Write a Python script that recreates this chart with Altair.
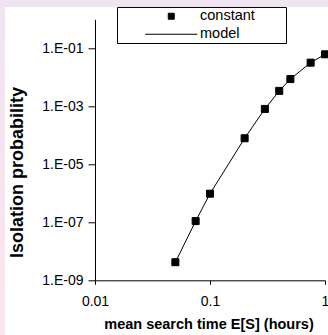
import altair as alt
import pandas as pd

# ---- data ----
x_vals = [0.05, 0.075, 0.1, 0.2, 0.3, 0.4, 0.5, 0.75, 1.0]
constant_vals = [4.2e-9, 1.1e-7, 9.7e-7, 7.9e-5, 8.1e-4, 3.4e-3, 8.7e-3, 3.2e-2, 6.2e-2]
model_vals = [4.2e-9, 1.1e-7, 9.7e-7, 7.9e-5, 8.1e-4, 3.4e-3, 8.7e-3, 3.2e-2, 6.2e-2]
series_names = ["constant", "model"]
x_ticks = [0.01, 0.1, 1]
y_ticks = [1e-9, 1e-7, 1e-5, 1e-3, 1e-1]

FONT = "Liberation Sans"
LEFT, TOP, W, H = 95, 19.3, 230, 261
TOTAL_W, TOTAL_H = 328, 335

pts = pd.DataFrame({"x": x_vals, "p": constant_vals, "series": ["constant"] * len(x_vals)})
mdl = pd.DataFrame({"x": x_vals, "p": model_vals})

# legend symbols (invisible moveTo parts widen the legend box)
SQ = "M-14.86,0M31.4,0M-0.857,-0.857H0.857V0.857H-0.857Z"
LN = "M-14.86,0M31.4,0M-7.43,0H7.43"

xscale = alt.Scale(type="log", domain=[0.01, 1], nice=False)
yscale = alt.Scale(type="log", domain=[1e-9, 1], nice=False)

xaxis = alt.Axis(
    values=x_ticks, format="~g", title="mean search time E[S] (hours)",
    grid=False, tickSize=4, labelFontSize=14, labelFont=FONT,
    labelBaseline="alphabetic", labelPadding=21.5, labelColor="black",
    titleFont=FONT, titleFontSize=14.5, titleFontWeight="bold", titleColor="black",
    titleBaseline="alphabetic", titleX=113.5, titleY=48.2, titleAlign="center",
    domainColor="black", tickColor="black", labelFlush=False, labelOverlap=False,
    zindex=1,
)
yaxis = alt.Axis(
    values=y_ticks, labelExpr="'1.E-0' + format(-log(datum.value)/LN10, '.0f')",
    title="Isolation probability", grid=False, tickSize=7, labelPadding=5,
    labelFontSize=14, labelFont=FONT, labelColor="black",
    titleFont=FONT, titleFontSize=18, titleFontWeight="bold", titleColor="black",
    titleBaseline="alphabetic", titleAngle=270, titleX=-72.3, titleY=152.7,
    titleAlign="center", domainColor="black", tickColor="black", labelOverlap=False,
    zindex=1,
)

one = alt.Data(values=[{}])
bg_left = alt.Chart(one).mark_rect(
    fill=alt.Gradient(
        gradient="linear",
        stops=[alt.GradientStop(color="#f0e4f2", offset=0),
               alt.GradientStop(color="#fde4ec", offset=1)],
        x1=0, x2=0, y1=0, y2=1,
    )
).encode(x=alt.value(-LEFT), x2=alt.value(-LEFT + 5),
         y=alt.value(-TOP), y2=alt.value(TOTAL_H - TOP))

panel = alt.Chart(one).mark_rect(fill="white").encode(
    x=alt.value(5 - LEFT), x2=alt.value(TOTAL_W - LEFT),
    y=alt.value(7 - TOP), y2=alt.value(TOTAL_H - TOP))

line = alt.Chart(mdl).mark_line(color="black", strokeWidth=1).encode(
    x=alt.X("x:Q", scale=xscale, axis=xaxis),
    y=alt.Y("p:Q", scale=yscale, axis=yaxis),
)

points = alt.Chart(pts).mark_point(
    filled=False, fill="black", stroke="black", strokeWidth=1,
    size=67, opacity=1, fillOpacity=1, strokeOpacity=1,
).encode(
    x=alt.X("x:Q", scale=xscale),
    y=alt.Y("p:Q", scale=yscale),
    shape=alt.Shape(
        "series:N",
        scale=alt.Scale(domain=series_names, range=[SQ, LN]),
        legend=alt.Legend(
            title=None, orient="none", legendX=22, legendY=7 - TOP,
            symbolSize=49, symbolStrokeWidth=1,
            symbolOffset=45, labelOffset=21.5,
            labelFont=FONT, labelFontSize=14.5, labelColor="black",
            strokeColor="black", fillColor="white", padding=2, rowPadding=3,
        ),
    ),
)

chart = alt.layer(bg_left, panel, line, points).properties(
    width=W, height=H,
    padding={"left": LEFT, "top": TOP, "right": TOTAL_W - LEFT - W, "bottom": TOTAL_H - TOP - H},
    autosize=alt.AutoSizeParams(type="none"),
    background="#f0e4f2",
).configure_view(stroke="transparent")

chart.save("out.html", embed_options={"renderer": "svg", "actions": False})
